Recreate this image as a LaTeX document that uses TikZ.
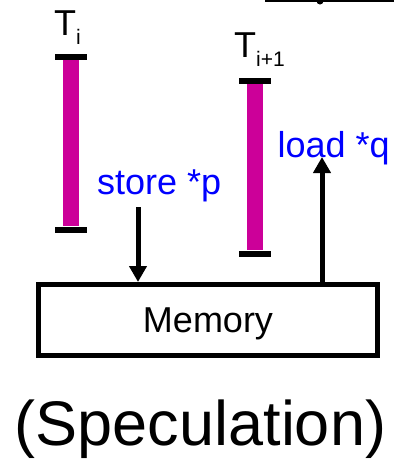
\documentclass[tikz,border=0pt]{standalone}
\usepackage{fontspec}
\setmainfont{Liberation Sans}
\usetikzlibrary{arrows.meta}
\definecolor{lifebar}{HTML}{CC0099}
\newcommand{\thread}[1]{T\raisebox{-9pt}{\fontsize{21}{21}\selectfont #1}}

\begin{document}
\begin{tikzpicture}[x=1pt, y=-1pt,
  endbar/.style={fill=black, minimum width=32pt, minimum height=6pt, inner sep=0pt},
  life/.style={draw=lifebar, line width=16pt},
  tname/.style={inner sep=0pt, anchor=base west, font=\fontsize{36}{40}\selectfont},
  op/.style={inner sep=0pt, anchor=base west, text=blue, font=\fontsize{36}{40}\selectfont},
  flow/.style={line width=5pt, -{Triangle[length=16pt, width=17pt]}}]
\useasboundingbox (0,0) rectangle (394,461);
% threads
\node[tname] (ti) at (54,35) {\thread{i}};
\node[endbar] (titop) at (71,57) {};
\node[endbar] (tibot) at (71,229.5) {};
\draw[life] (titop.south) -- (tibot.north);
\node[tname] (tj) at (234,57) {\thread{i+1}};
\node[endbar] (tjtop) at (255,81) {};
\node[endbar] (tjbot) at (255,253.5) {};
\draw[life] (tjtop.south) -- (tjbot.north);
% memory
\node[draw, line width=5pt, minimum width=339pt, minimum height=71pt,
  inner sep=0pt, text depth=0pt, font=\fontsize{36}{40}\selectfont] (mem) at (208,320) {Memory};
\node[op] (store) at (97,194) {store *p};
\node[op] (load) at (277.5,157) {load *q};
\coordinate (st) at (138,207);
\coordinate (ld) at (322,157);
\draw[flow] (st) -- (st |- mem.north);
\draw[flow] (ld |- mem.north) -- (ld);
\node[inner sep=0pt, anchor=base, font=\fontsize{63}{70}\selectfont] (spec) at (200.5,445) {(Speculation)};
% cut-off rule at the top
\draw[line width=1.5pt] (265,0.75) -- (394,0.75);
\fill (320,1) circle (3.5);
\end{tikzpicture}
\end{document}
